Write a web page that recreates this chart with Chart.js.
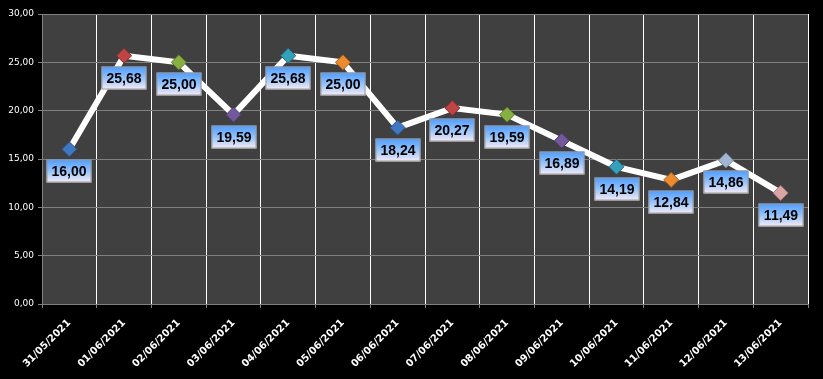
<!DOCTYPE html>
<html>
<head>
<meta charset="utf-8">
<script src="https://cdn.jsdelivr.net/npm/chart.js@4/dist/chart.umd.min.js"></script>
<style>
html,body{margin:0;padding:0;background:#000;}
#wrap{width:823px;height:379px;position:relative;}
</style>
</head>
<body>
<div id="wrap"><canvas id="c" width="823" height="379"></canvas></div>
<script>
const categories = ["31/05/2021","01/06/2021","02/06/2021","03/06/2021","04/06/2021","05/06/2021","06/06/2021","07/06/2021","08/06/2021","09/06/2021","10/06/2021","11/06/2021","12/06/2021","13/06/2021"];
const values = [16.00,25.68,25.00,19.59,25.68,25.00,18.24,20.27,19.59,16.89,14.19,12.84,14.86,11.49];
const markerColors = ["#3f78c0","#c04444","#88b040","#74589c","#34a0bc","#ec8a30","#3f78c0","#c04444","#88b040","#74589c","#34a0bc","#ec8a30","#a2b6d2","#d8a4a4"];
const markerBorders = ["#2a5080","#803030","#5a7a28","#4e3a6a","#206c80","#a85e1c","#2a5080","#803030","#5a7a28","#4e3a6a","#206c80","#a85e1c","#7088a8","#a87878"];

const fmt = v => v.toFixed(2).replace('.', ',');

const bgPlugin = {
  id: 'bg',
  beforeDraw(chart) {
    const {ctx, chartArea: a} = chart;
    ctx.save();
    ctx.fillStyle = '#000';
    ctx.fillRect(0, 0, chart.width, chart.height);
    ctx.fillStyle = '#404040';
    ctx.fillRect(a.left, a.top, a.right - a.left, a.bottom - a.top);
    ctx.restore();
  }
};

const labelPlugin = {
  id: 'boxLabels',
  afterDatasetsDraw(chart) {
    const ctx = chart.ctx;
    const meta = chart.getDatasetMeta(0);
    const ds = chart.data.datasets[0].data;
    ctx.save();
    ctx.font = 'bold 14px "Liberation Sans", Arial, sans-serif';
    meta.data.forEach((pt, i) => {
      const txt = fmt(ds[i]);
      const w = 45, h = 23;
      const cx = Math.round(pt.x), cy = Math.round(pt.y + 22);
      const x0 = cx - w / 2, y0 = cy - h / 2;
      const g = ctx.createLinearGradient(0, y0, 0, y0 + h);
      g.addColorStop(0, '#4e9cff');
      g.addColorStop(0.5, '#94c2fa');
      g.addColorStop(1, '#f6ecf6');
      ctx.fillStyle = g;
      ctx.fillRect(x0, y0, w, h);
      ctx.strokeStyle = '#9a9a9a';
      ctx.lineWidth = 1;
      ctx.strokeRect(x0 + 0.5, y0 + 0.5, w - 1, h - 1);
      ctx.fillStyle = '#000';
      ctx.textAlign = 'center';
      ctx.textBaseline = 'middle';
      ctx.fillText(txt, cx, cy + 1);
    });
    ctx.restore();
  }
};

new Chart(document.getElementById('c'), {
  type: 'line',
  data: {
    labels: categories,
    datasets: [{
      data: values,
      borderColor: '#ffffff',
      borderWidth: 6,
      tension: 0,
      pointStyle: 'rectRot',
      pointRadius: 7.5,
      pointHoverRadius: 7.5,
      pointBackgroundColor: markerColors,
      pointBorderColor: markerBorders,
      pointBorderWidth: 1
    }]
  },
  options: {
    responsive: false,
    animation: false,
    events: [],
    layout: { padding: { top: 14, right: 15, left: 0, bottom: 0 } },
    plugins: { legend: { display: false }, tooltip: { enabled: false } },
    scales: {
      x: {
        offset: true,
        grid: {
          offset: true,
          color: ctx => ctx.index === 0 ? '#808080' : '#ffffff',
          lineWidth: 1,
          tickColor: '#808080',
          tickLength: 4,
          drawOnChartArea: true
        },
        border: { color: '#808080' },
        ticks: {
          color: '#ffffff',
          font: { family: '"DejaVu Sans", sans-serif', size: 10, weight: 'bold' },
          minRotation: 45,
          maxRotation: 45,
          autoSkip: false,
          padding: 9
        },
        afterFit: s => { s.height = 75; }
      },
      y: {
        min: 0,
        max: 30,
        ticks: {
          stepSize: 5,
          color: '#ffffff',
          font: { family: '"DejaVu Sans", sans-serif', size: 9 },
          padding: 4,
          callback: v => fmt(v)
        },
        grid: { color: '#808080', tickColor: '#808080', tickLength: 4 },
        border: { color: '#808080' },
        afterFit: s => { s.width = 42; }
      }
    }
  },
  plugins: [bgPlugin, labelPlugin]
});
</script>
</body>
</html>
